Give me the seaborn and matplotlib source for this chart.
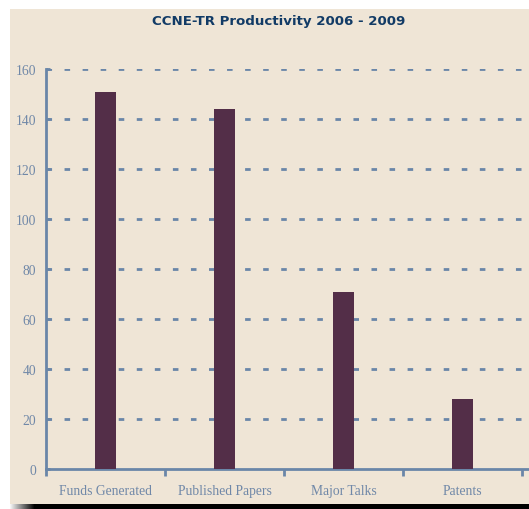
import matplotlib
matplotlib.use("Agg")
import matplotlib.pyplot as plt
import seaborn as sns
import pandas as pd
import numpy as np
from matplotlib.patches import Rectangle

categories = ["Funds Generated", "Published Papers", "Major Talks", "Patents"]
values = [151, 144, 71, 28]
yticks = [0, 20, 40, 60, 80, 100, 120, 140, 160]
title = "CCNE-TR Productivity 2006 - 2009"

BG = "#EFE5D6"
BAR = "#532E48"
AX = "#6A86A8"
TXT = "#7088A8"

sns.set_theme(style="white")
plt.rcParams["font.family"] = ["Liberation Serif", "DejaVu Serif"]

W, H = 529, 510
fig = plt.figure(figsize=(W / 100, H / 100), dpi=100)
fig.patch.set_facecolor("white")

# beige panel and bottom shadow
fig.patches.append(Rectangle((10 / W, 5 / H), 1 - 10 / W, 1 - 15 / H,
                             transform=fig.transFigure, facecolor=BG,
                             edgecolor="none", zorder=-10))
n = 25
for i in range(n):
    g = 1 - (i + 1) / n
    fig.patches.append(Rectangle(((10 + i) / W, 0), 1.2 / W, 5 / H,
                                 transform=fig.transFigure,
                                 facecolor=(g, g, g), edgecolor="none", zorder=-9))
fig.patches.append(Rectangle(((10 + n) / W, 0), 1, 5 / H,
                             transform=fig.transFigure, facecolor="black",
                             edgecolor="none", zorder=-9))

left, bottom, top = 46 / W, 40 / H, 440 / H
ax = fig.add_axes([left, bottom, 1 - left, top - bottom])
ax.set_facecolor("none")

df = pd.DataFrame({"category": categories, "value": values})
sns.barplot(data=df, x="category", y="value", color=BAR, width=0.177,
            saturation=1, ax=ax, zorder=3, edgecolor="none")

ax.set_xlim(-0.5, -0.5 + (W - 46) / 119)
ax.set_ylim(0, 160)
ax.set_yticks(yticks)
ax.set_yticklabels([str(t) for t in yticks])
ax.set_xlabel("")
ax.set_ylabel("")

for y in yticks[1:]:
    ax.axhline(y, color=AX, lw=2, ls=(0, (2, 4.5)), zorder=2)

for s in ["top", "right"]:
    ax.spines[s].set_visible(False)
for s in ["left", "bottom"]:
    ax.spines[s].set_color(AX)
    ax.spines[s].set_linewidth(2)

ax.tick_params(axis="y", direction="in", length=3, width=2, color=AX,
               labelcolor=TXT, labelsize=9.8, pad=7, left=True)
ax.tick_params(axis="x", which="major", length=0, labelcolor=TXT,
               labelsize=9.8, pad=11, bottom=True)
ax.set_xticks([-0.5, 0.5, 1.5, 2.5, 3.5], minor=True)
ax.tick_params(axis="x", which="minor", direction="out", length=5, width=2,
               color=AX, bottom=True)

fig.text(279 / W, 1 - 22 / H, title, ha="center", va="center",
         fontsize=9.6, fontweight="bold", color="#123B66",
         family=["DejaVu Sans"])

fig.savefig("out.png", dpi=100, facecolor=fig.get_facecolor())
